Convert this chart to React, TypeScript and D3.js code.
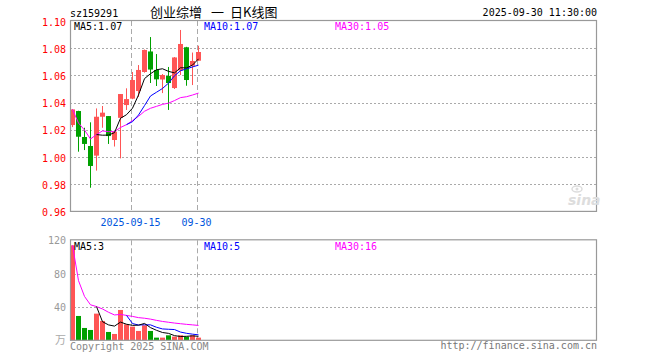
import React from "react";
import * as d3 from "d3";

const dates = ["2025-09-01","2025-09-02","2025-09-03","2025-09-04","2025-09-05","2025-09-08","2025-09-09","2025-09-10","2025-09-11","2025-09-12","2025-09-15","2025-09-16","2025-09-17","2025-09-18","2025-09-19","2025-09-22","2025-09-23","2025-09-24","2025-09-25","2025-09-26","2025-09-29","2025-09-30"];
const opens = [1.0235,1.0338,1.0147,1.0081,1.0010,1.0296,1.0301,1.0125,1.0288,1.0382,1.0429,1.0485,1.0625,1.0776,1.0640,1.0570,1.0596,1.0507,1.0636,1.0807,1.0671,1.0708];
const highs = [1.0352,1.0340,1.0215,1.0255,1.0357,1.0375,1.0301,1.0190,1.0463,1.0505,1.0625,1.0676,1.0790,1.0882,1.0757,1.0610,1.0662,1.0735,1.0934,1.0810,1.0768,1.0818];
const lows = [1.0220,1.0039,1.0051,0.9774,0.9900,1.0215,1.0096,1.0077,0.9990,1.0346,1.0425,1.0441,1.0620,1.0544,1.0522,1.0470,1.0346,1.0500,1.0603,1.0524,1.0529,1.0708];
const closes = [1.0350,1.0149,1.0096,0.9934,1.0296,1.0326,1.0154,1.0186,1.0463,1.0426,1.0566,1.0640,1.0787,1.0643,1.0571,1.0603,1.0544,1.0732,1.0831,1.0566,1.0706,1.0772];
const volumes = [114,29.2,14.8,12.4,32,23.2,10,7.6,36.4,19.2,16.4,11.2,18,11.2,3.2,3.2,6,4.4,6,4.4,6,3.2];

const priceTicks = [0.96,0.98,1.0,1.02,1.04,1.06,1.08,1.1];
const volTicks = [40,80,120];
const dateTicks = [{ date: "2025-09-15", label: "2025-09-15" }, { date: "2025-09-30", label: "09-30" }];
const titleParts = [{ text: "创业综增", x: 150 }, { text: "一", x: 211 }, { text: "日K线图", x: 230 }];

const RED = "#ff5555";
const GREEN = "#00a000";
const GRID = "#aaaaaa";
const BOX = "#999999";
const MONO = "'DejaVu Sans Mono', monospace";

function movingAvg(vals: number[], n: number, cumulative: boolean): (number | null)[] {
  return vals.map((_, i) => {
    if (i < n - 1 && !cumulative) return null;
    const s = Math.max(0, i - n + 1);
    const slice = vals.slice(s, i + 1);
    return d3.mean(slice) as number;
  });
}

export default function App() {
  const L = 70, R = 597;
  const pTop = 21, pBot = 211.4;
  const vTop = 240.3, vBot = 340.3;

  const x = d3.scaleLinear().domain([0, 21]).range([72.5, 198.5]);
  const y = d3.scaleLinear().domain([0.96, 1.1]).range([pBot, pTop]);
  const yv = d3.scaleLinear().domain([0, 120]).range([vBot, vTop]);

  const idx = d3.range(dates.length);
  const ma5 = movingAvg(closes, 5, false);
  const ma10 = movingAvg(closes, 10, false);
  const ma30 = movingAvg(closes, 30, true);
  const vma5 = movingAvg(volumes, 5, false);
  const vma10 = movingAvg(volumes, 10, false);
  const vma30 = movingAvg(volumes, 30, true);

  const mkLine = (ys: d3.ScaleLinear<number, number>) =>
    d3.line<[number, number | null]>()
      .defined((d) => d[1] != null)
      .x((d) => x(d[0]))
      .y((d) => ys(d[1] as number));

  const pl = mkLine(y);
  const vl = mkLine(yv);
  const zip = (a: (number | null)[]) => a.map((v, i) => [i, v] as [number, number | null]);

  const dashX = dateTicks.map((t) => x(dates.indexOf(t.date)) - 2);

  return (
    <div style={{ position: "absolute", left: 0, top: 0 }}>
      <svg width={660} height={360} style={{ display: "block", background: "#fff" }}>
        {/* header */}
        <text x={70} y={16.5} fontFamily={MONO} fontSize={10} fill="#000">sz159291</text>
        {titleParts.map((p) => (
          <text key={p.text} x={p.x} y={17} fontFamily="'Noto Sans CJK SC', sans-serif" fontSize={13} fill="#000">{p.text}</text>
        ))}
        <text x={597} y={16} fontFamily={MONO} fontSize={10} fill="#000" textAnchor="end">2025-09-30 11:30:00</text>

        {/* price grid */}
        {priceTicks.map((t) => (
          <g key={"pt" + t}>
            {t > 0.96 && t < 1.1 && (
              <line x1={L} x2={R} y1={Math.round(y(t)) + 0.5} y2={Math.round(y(t)) + 0.5} stroke={GRID} strokeDasharray="2,2" />
            )}
            <text x={66} y={y(t) + 4.5} fontFamily={MONO} fontSize={10} fill="#ff0000" textAnchor="end">{t.toFixed(2)}</text>
          </g>
        ))}
        {dashX.map((dx, i) => (
          <g key={"dx" + i}>
            <line x1={Math.round(dx) + 0.5} x2={Math.round(dx) + 0.5} y1={pTop} y2={pBot} stroke={GRID} strokeDasharray="5,3" />
            <line x1={Math.round(dx) + 0.5} x2={Math.round(dx) + 0.5} y1={vTop} y2={vBot} stroke={GRID} strokeDasharray="5,3" />
          </g>
        ))}
        {dateTicks.map((t) => (
          <text key={t.date} x={x(dates.indexOf(t.date)) - 2} y={226} fontFamily={MONO} fontSize={10} fill="#0055dd" textAnchor="middle">{t.label}</text>
        ))}

        {/* candles */}
        {idx.map((i) => {
          const up = closes[i] >= opens[i];
          const col = up ? RED : GREEN;
          const cx = x(i);
          const top = y(Math.max(opens[i], closes[i]));
          const bot = y(Math.min(opens[i], closes[i]));
          return (
            <g key={"c" + i}>
              <line x1={Math.floor(cx) + 0.5} x2={Math.floor(cx) + 0.5} y1={y(highs[i])} y2={y(lows[i])} stroke={col} />
              <rect x={cx - 2.5} y={top} width={5} height={Math.max(1, bot - top)} fill={col} />
            </g>
          );
        })}
        <path d={pl(zip(ma30)) || ""} fill="none" stroke="#ff00ff" strokeWidth={1} />
        <path d={pl(zip(ma10)) || ""} fill="none" stroke="#0000ff" strokeWidth={1} />
        <path d={pl(zip(ma5)) || ""} fill="none" stroke="#000000" strokeWidth={1} />

        <rect x={L + 0.5} y={pTop - 0.5} width={R - L - 1} height={pBot - pTop + 0.5} fill="none" stroke={BOX} strokeWidth={1.2} />
        <text x={74} y={30} fontFamily={MONO} fontSize={10} fill="#000">MA5:{(ma5[ma5.length - 1] as number).toFixed(2)}</text>
        <text x={204} y={30} fontFamily={MONO} fontSize={10} fill="#0000ff">MA10:{(ma10[ma10.length - 1] as number).toFixed(2)}</text>
        <text x={335} y={30} fontFamily={MONO} fontSize={10} fill="#ff00ff">MA30:{(ma30[ma30.length - 1] as number).toFixed(2)}</text>

        {/* sina watermark */}
        <g fill="#dddddd">
          <ellipse cx={577} cy={189} rx={5} ry={3} fill="none" stroke="#dddddd" strokeWidth={1.5} />
          <circle cx={577} cy={189} r={1.5} />
          <text x={568} y={205} fontFamily="'DejaVu Sans', sans-serif" fontSize={14} fontWeight="bold" fontStyle="italic">sina</text>
        </g>

        {/* volume */}
        {volTicks.map((t) => (
          <g key={"vt" + t}>
            {t < 120 && (
              <line x1={L} x2={R} y1={Math.round(yv(t)) + 0.5} y2={Math.round(yv(t)) + 0.5} stroke={GRID} strokeDasharray="2,2" />
            )}
            <text x={66} y={yv(t) + 4} fontFamily={MONO} fontSize={10} fill="#999" textAnchor="end">{t}</text>
          </g>
        ))}
        <text x={66} y={344} fontFamily="'Noto Sans CJK SC', sans-serif" fontSize={11} fill="#aaa" textAnchor="end">万</text>
        {idx.map((i) => {
          const up = closes[i] >= opens[i];
          return (
            <rect key={"v" + i} x={x(i) - 2.5} y={yv(volumes[i])} width={5} height={vBot - yv(volumes[i])} fill={up ? RED : GREEN} />
          );
        })}
        <path d={vl(zip(vma30)) || ""} fill="none" stroke="#ff00ff" strokeWidth={1} />
        <path d={vl(zip(vma10)) || ""} fill="none" stroke="#0000ff" strokeWidth={1} />
        <path d={vl(zip(vma5)) || ""} fill="none" stroke="#000000" strokeWidth={1} />
        <rect x={L + 0.5} y={vTop - 0.5} width={R - L - 1} height={vBot - vTop + 0.5} fill="none" stroke={BOX} strokeWidth={1.2} />
        <text x={74} y={250} fontFamily={MONO} fontSize={10} fill="#000">MA5:3</text>
        <text x={204} y={250} fontFamily={MONO} fontSize={10} fill="#0000ff">MA10:5</text>
        <text x={335} y={250} fontFamily={MONO} fontSize={10} fill="#ff00ff">MA30:16</text>

        {/* footer */}
        <text x={70} y={350} fontFamily={MONO} fontSize={10} fill="#888">Copyright 2025 SINA.COM</text>
        <text x={597} y={349} fontFamily={MONO} fontSize={10} fill="#777" textAnchor="end">http://finance.sina.com.cn</text>
      </svg>
    </div>
  );
}
